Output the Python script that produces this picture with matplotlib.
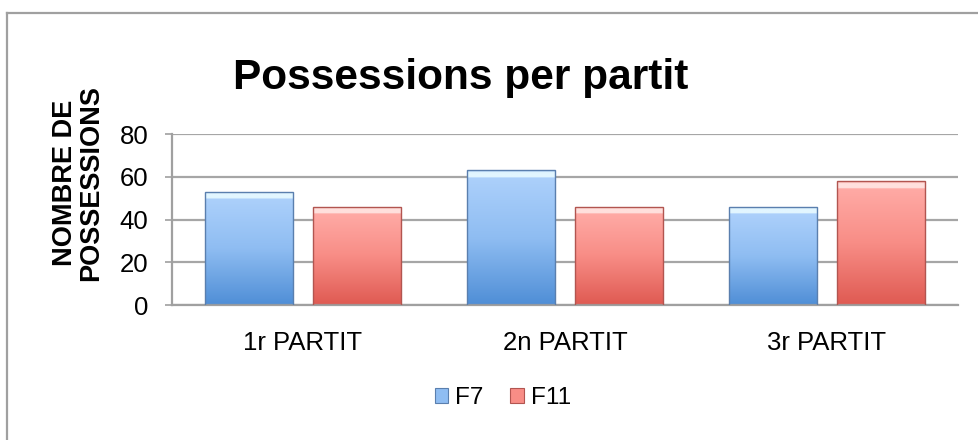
import matplotlib
matplotlib.use('Agg')
import matplotlib.pyplot as plt
import numpy as np
from matplotlib.patches import Patch
from matplotlib.lines import Line2D
from matplotlib.colors import LinearSegmentedColormap

categories = ['1r PARTIT', '2n PARTIT', '3r PARTIT']
series_names = ['F7', 'F11']
f7 = [53, 63, 46]
f11 = [46, 46, 58]
y_ticks = [0, 20, 40, 60, 80]
title = 'Possessions per partit'
y_label = 'NOMBRE DE\nPOSSESSIONS'

plt.rcParams['font.family'] = ['Liberation Sans', 'DejaVu Sans']

W, H = 979, 440
fig = plt.figure(figsize=(W / 100, H / 100), dpi=100)
fig.patch.set_facecolor('white')

# outer chart frame (only top and left visible)
fig.add_artist(Line2D([7 / W, 1.0], [1 - 13 / H, 1 - 13 / H], color='#a0a0a0', lw=1.6))
fig.add_artist(Line2D([7 / W, 7 / W], [1 - 13 / H, 0.0], color='#a0a0a0', lw=1.6))

ax = fig.add_axes([172 / W, 1 - 305 / H, (958 - 172) / W, (305 - 134) / H])
x = np.arange(len(categories))
bw = 0.336
off = 0.206

styles = {
    'F7': dict(bottom='#4f8ed6', mid='#8fbdf2', top='#acd0fb', bevel='#e2f6ff', edge='#5a7fae'),
    'F11': dict(bottom='#df5a52', mid='#f88d86', top='#ffaaa5', bevel='#ffe0dd', edge='#b25550'),
}


def gradient_bars(xs, hs, st):
    bars = ax.bar(xs, hs, bw, color='none', edgecolor=st['edge'], linewidth=1.0, zorder=3)
    for b in bars:
        h = b.get_height()
        bev = min(0.3, 3.4 / h)
        cmap = LinearSegmentedColormap.from_list(
            'g', [(0.0, st['bottom']), (0.5, st['mid']), (1 - bev, st['top']),
                  (1 - bev + 0.002, st['bevel']), (1 - bev * 0.3, st['bevel']), (1.0, st['top'])])
        grad = np.linspace(0, 1, 1024).reshape(-1, 1)
        im = ax.imshow(grad, extent=[b.get_x(), b.get_x() + b.get_width(), 0, h],
                       origin='lower', cmap=cmap, aspect='auto', zorder=2,
                       interpolation='bilinear')
        im.set_clip_path(b)
    return bars


gradient_bars(x - off, f7, styles['F7'])
gradient_bars(x + off, f11, styles['F11'])

ax.set_xlim(-0.5, len(categories) - 0.5)
ax.set_ylim(0, 80)
ax.set_yticks(y_ticks)
ax.set_yticklabels([str(v) for v in y_ticks], fontsize=18.5)
ax.set_xticks(x)
ax.set_xticklabels(categories, fontsize=18.5)
ax.tick_params(axis='x', length=0, pad=19)
ax.tick_params(axis='y', length=5, color='#a0a0a0', width=1.2, pad=12)
ax.yaxis.grid(True, color='#a6a6a6', lw=1.6, zorder=0)
ax.set_axisbelow(True)
for s in ['top', 'right']:
    ax.spines[s].set_visible(False)
for s in ['left', 'bottom']:
    ax.spines[s].set_color('#a0a0a0')
    ax.spines[s].set_linewidth(1.6)
ax.set_facecolor('white')

fig.text(461 / W, 1 - 89 / H, title, fontsize=30.5, fontweight='bold', ha='center', va='baseline')
fig.text(78 / W, 1 - 183 / H, y_label, fontsize=19.5, fontweight='bold', rotation=90,
         ha='center', va='center', multialignment='center', linespacing=1.05)

handles = [Patch(facecolor=styles[n]['mid'], edgecolor=styles[n]['edge'], lw=0.8) for n in series_names]
fig.legend(handles, series_names, loc='center', bbox_to_anchor=(503 / W, 1 - 398 / H), ncol=2,
           frameon=False, fontsize=17.5, handlelength=0.55, handleheight=0.55, handletextpad=0.3,
           columnspacing=1.1)

fig.savefig('out.png', dpi=100, facecolor='white')
